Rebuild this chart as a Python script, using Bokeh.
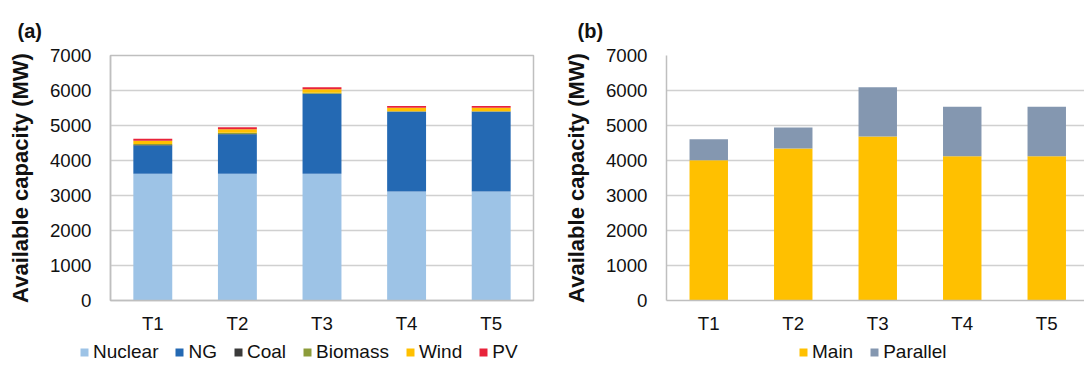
import numpy as np
from bokeh.plotting import figure
from bokeh.models import ColumnDataSource, Range1d, FixedTicker, Legend, LegendItem
from bokeh.layouts import row, column
from bokeh.embed import file_html
from bokeh.resources import INLINE

# ---- data ----
periods = ["T1", "T2", "T3", "T4", "T5"]
nuclear = [3620, 3620, 3620, 3115, 3115]
ng = [810, 1130, 2280, 2280, 2280]
coal = [10, 10, 10, 5, 5]
biomass = [30, 30, 25, 5, 5]
wind = [95, 100, 100, 100, 100]
pv = [55, 60, 55, 50, 50]

main = [4010, 4345, 4685, 4125, 4125]
parallel = [600, 600, 1405, 1410, 1410]

tech_names = ["Nuclear", "NG", "Coal", "Biomass", "Wind", "PV"]
tech_colors = ["#9DC3E6", "#2469B3", "#3B3B3B", "#8C9C3A", "#FFC000", "#E8233A"]
path_names = ["Main", "Parallel"]
path_colors = ["#FFC000", "#8497B0"]
yticks = [0, 1000, 2000, 3000, 4000, 5000, 6000, 7000]

FONT = "Liberation Sans"
GRID = "#D0D0D0"
AXIS = "#BFBFBF"
TXT = "#111111"
H_MAIN, H_LEG = 340, 29
FRAME_H = 247


def style(p, xs, title):
    p.title.text = title
    p.title.text_font = FONT
    p.title.text_font_size = "20px"
    p.title.text_font_style = "bold"
    p.title.text_color = TXT
    p.title.align = "left"
    p.title.standoff = 28
    p.xaxis.ticker = FixedTicker(ticks=list(xs))
    p.xaxis.major_label_overrides = {int(i): s for i, s in zip(xs, periods)}
    p.yaxis.ticker = FixedTicker(ticks=yticks)
    p.yaxis.axis_label = "Available capacity (MW)"
    p.yaxis.axis_label_text_font = FONT
    p.yaxis.axis_label_text_font_size = "22px"
    p.yaxis.axis_label_text_font_style = "bold"
    p.yaxis.axis_label_text_color = TXT
    p.yaxis.axis_label_standoff = 14
    for ax in (p.xaxis, p.yaxis):
        ax.major_label_text_font = FONT
        ax.major_label_text_font_size = "18.7px"
        ax.major_label_text_color = TXT
        ax.major_tick_line_color = None
        ax.minor_tick_line_color = None
        ax.axis_line_color = AXIS
        ax.axis_line_width = 1.5
    p.yaxis.major_label_standoff = 13
    p.xaxis.major_label_standoff = 6
    p.xgrid.grid_line_color = None
    p.ygrid.grid_line_color = GRID
    p.ygrid.grid_line_width = 1.3
    p.background_fill_color = "white"
    p.border_fill_color = "white"


def legend_fig(width, names, colors, x):
    f = figure(width=width, height=H_LEG, output_backend="svg", toolbar_location=None,
               x_range=Range1d(0, 1), y_range=Range1d(0, 1),
               min_border_left=0, min_border_right=0, min_border_top=0,
               min_border_bottom=0)
    f.axis.visible = False
    f.grid.visible = False
    f.outline_line_color = None
    # proxy renderers (outside the visible range) that only feed the legend swatches
    rends = [f.vbar(x=[5], top=[1], width=0.5, color=c, line_color=None) for c in colors]
    leg = Legend(items=[LegendItem(label=n, renderers=[r]) for n, r in zip(names, rends)],
                 orientation="horizontal", location=(x, 6), padding=0, margin=0,
                 spacing=16, label_standoff=4, glyph_width=10, glyph_height=10,
                 label_text_font=FONT, label_text_font_size="19px",
                 label_text_color=TXT, border_line_color=None,
                 background_fill_alpha=0)
    f.add_layout(leg, "center")
    return f


xs = np.arange(len(periods))

# ---- panel (a) ----
src_a = ColumnDataSource(dict(x=xs, Nuclear=nuclear, NG=ng, Coal=coal,
                              Biomass=biomass, Wind=wind, PV=pv))
wa, la_b, ta = 544, 110, 53
pa = figure(width=wa, height=H_MAIN, output_backend="svg", toolbar_location=None,
            x_range=Range1d(-0.5, len(periods) - 0.5), y_range=Range1d(0, 7000),
            min_border_left=la_b, min_border_right=11, min_border_top=ta,
            min_border_bottom=H_MAIN - ta - FRAME_H)
pa.vbar_stack(tech_names, x="x", width=0.46, color=tech_colors,
              line_color=None, source=src_a)
style(pa, xs, "(a)")
pa.title.offset = -93
pa.outline_line_color = AXIS
pa.outline_line_width = 1.5
leg_a = legend_fig(wa, tech_names, tech_colors, 79)

# ---- panel (b) ----
src_b = ColumnDataSource(dict(x=xs, Main=main, Parallel=parallel))
wb, lb, tb = 540, 122, 55
pb = figure(width=wb, height=H_MAIN, output_backend="svg", toolbar_location=None,
            x_range=Range1d(-0.5, -0.5 + (wb - lb) / 84.5), y_range=Range1d(0, 7000),
            min_border_left=lb, min_border_right=0, min_border_top=tb,
            min_border_bottom=H_MAIN - tb - FRAME_H)
pb.vbar_stack(path_names, x="x", width=0.455, color=path_colors,
              line_color=None, source=src_b)
style(pb, xs, "(b)")
pb.title.offset = -89
pb.outline_line_color = None
leg_b = legend_fig(wb, path_names, path_colors, 254)

layout = column(row(pa, pb), row(leg_a, leg_b))
open("out.html", "w").write(file_html(layout, INLINE))
